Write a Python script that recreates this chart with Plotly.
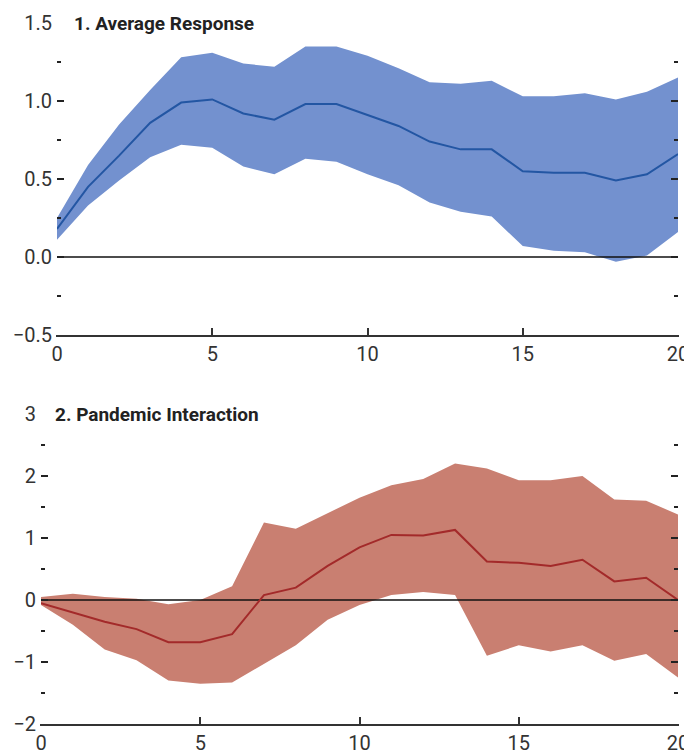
import plotly.graph_objects as go

# Horizon (quarters after the shock)
horizon = list(range(21))

# Panel 1: average response with confidence band
avg_mean = [0.18, 0.45, 0.65, 0.86, 0.99, 1.01, 0.92, 0.88, 0.98, 0.98, 0.91,
            0.84, 0.74, 0.69, 0.69, 0.55, 0.54, 0.54, 0.49, 0.53, 0.66]
avg_upper = [0.25, 0.59, 0.85, 1.07, 1.28, 1.31, 1.24, 1.22, 1.35, 1.35, 1.29,
             1.21, 1.12, 1.11, 1.13, 1.03, 1.03, 1.05, 1.01, 1.06, 1.15]
avg_lower = [0.11, 0.33, 0.49, 0.64, 0.72, 0.70, 0.58, 0.53, 0.63, 0.61, 0.53,
             0.46, 0.35, 0.29, 0.26, 0.07, 0.04, 0.03, -0.03, 0.01, 0.16]

# Panel 2: pandemic interaction with confidence band
pan_mean = [-0.05, -0.20, -0.35, -0.47, -0.68, -0.68, -0.55, 0.08, 0.20, 0.55, 0.85,
            1.05, 1.04, 1.13, 0.62, 0.60, 0.55, 0.65, 0.30, 0.36, 0.00]
pan_upper = [0.05, 0.10, 0.05, 0.02, -0.07, 0.00, 0.22, 1.25, 1.15, 1.40, 1.65,
             1.85, 1.95, 2.20, 2.12, 1.93, 1.93, 2.00, 1.62, 1.60, 1.38]
pan_lower = [-0.08, -0.40, -0.80, -0.97, -1.30, -1.35, -1.33, -1.03, -0.73, -0.32, -0.08,
             0.08, 0.13, 0.08, -0.90, -0.73, -0.83, -0.73, -0.98, -0.87, -1.25]

panel_titles = ["1. Average Response", "2. Pandemic Interaction"]

W, H = 684, 754
FONT = "Roboto"

BLUE_BAND, BLUE_LINE = "#7391cf", "#2356a3"
RED_BAND, RED_LINE = "#c97f71", "#a32a2a"

fig = go.Figure()


def add_panel(xa, ya, mean, upper, lower, band, line):
    fig.add_trace(go.Scatter(x=horizon, y=lower, mode="lines", line=dict(width=0, color=band),
                             hoverinfo="skip", showlegend=False, xaxis=xa, yaxis=ya))
    fig.add_trace(go.Scatter(x=horizon, y=upper, mode="lines", line=dict(width=0, color=band),
                             fill="tonexty", fillcolor=band, hoverinfo="skip",
                             showlegend=False, xaxis=xa, yaxis=ya))
    fig.add_trace(go.Scatter(x=[horizon[0], horizon[-1]], y=[0, 0], mode="lines",
                             line=dict(width=1.5, color="#111"), hoverinfo="skip",
                             showlegend=False, xaxis=xa, yaxis=ya))
    fig.add_trace(go.Scatter(x=horizon, y=mean, mode="lines", line=dict(width=2, color=line),
                             showlegend=False, xaxis=xa, yaxis=ya))


add_panel("x", "y", avg_mean, avg_upper, avg_lower, BLUE_BAND, BLUE_LINE)
add_panel("x2", "y2", pan_mean, pan_upper, pan_lower, RED_BAND, RED_LINE)


def px_x(p):
    return p / W


def px_y(p):
    return (H - p) / H


tick_font = dict(family=FONT, size=20, color="#333")

xcommon = dict(range=[0, 20], tickvals=[0, 5, 10, 15, 20], ticks="inside", ticklen=7,
               tickwidth=1.5, tickcolor="#333", showline=True, linecolor="#333", linewidth=2,
               showgrid=False, zeroline=False, ticklabeloverflow="allow", automargin=False,
               tickfont=tick_font)

ycommon = dict(ticks="inside", ticklen=7, tickwidth=2, tickcolor="#222",
               showline=True, linecolor="rgba(0,0,0,0)", mirror="ticks",
               showgrid=False, zeroline=False, ticklabelstandoff=0, automargin=False,
               tickfont=tick_font)

fig.update_layout(
    width=W, height=H,
    margin=dict(l=0, r=0, t=0, b=0, autoexpand=False),
    paper_bgcolor="white", plot_bgcolor="white",
    xaxis=dict(domain=[px_x(57), px_x(678)], anchor="y", **xcommon),
    yaxis=dict(domain=[px_y(335), px_y(23)], anchor="x", range=[-0.5, 1.5],
               tickvals=[-0.5, 0, 0.5, 1.0, 1.5], tickformat=".1f",
               minor=dict(tickvals=[-0.25, 0.25, 0.75, 1.25], ticks="inside",
                          ticklen=4, tickwidth=2, tickcolor="#222"),
               **ycommon),
    xaxis2=dict(domain=[px_x(41), px_x(678)], anchor="y2", **xcommon),
    yaxis2=dict(domain=[px_y(724), px_y(414)], anchor="x2", range=[-2, 3],
                tickvals=[-2, -1, 0, 1, 2, 3],
                minor=dict(tickvals=[-1.5, -0.5, 0.5, 1.5, 2.5], ticks="inside",
                           ticklen=4, tickwidth=2, tickcolor="#222"),
                **ycommon),
)

title_font = dict(family=FONT, size=19, color="#222", weight="bold")
fig.add_annotation(text=panel_titles[0], xref="paper", yref="y", x=px_x(72), y=1.5,
                   xanchor="left", yanchor="middle", showarrow=False, font=title_font)
fig.add_annotation(text=panel_titles[1], xref="paper", yref="y2", x=px_x(53), y=3,
                   xanchor="left", yanchor="middle", showarrow=False, font=title_font)

fig.write_html("out.html")
